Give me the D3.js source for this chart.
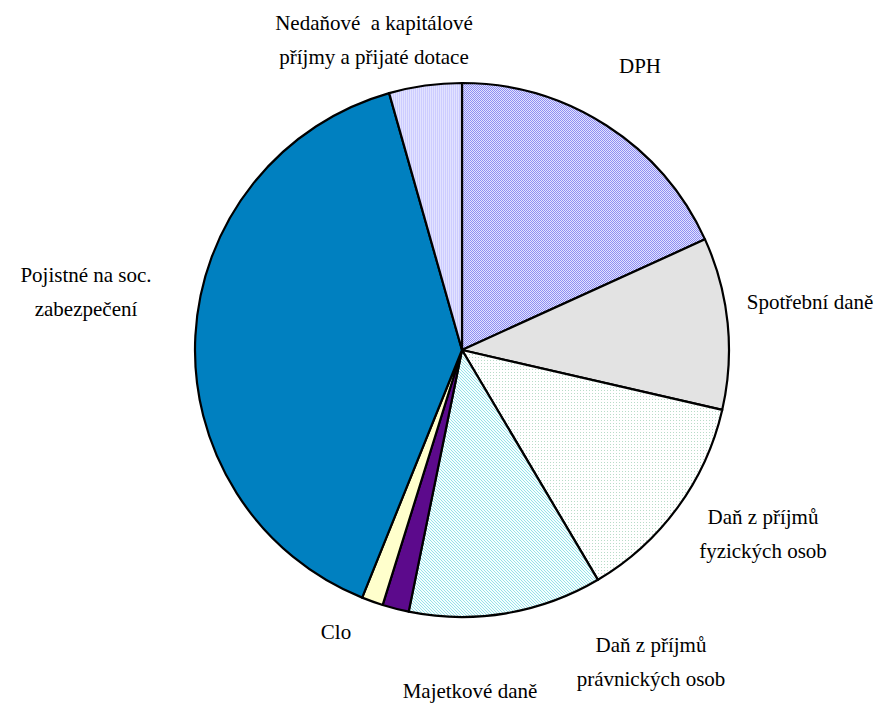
<!DOCTYPE html>
<html>
<head>
<meta charset="utf-8">
<script src="https://cdn.jsdelivr.net/npm/d3@7"></script>
<style>
  body { margin: 0; background: #fff; }
  .lbl { font-family: "Liberation Serif", "Times New Roman", serif; font-size: 21px; fill: #000; }
</style>
</head>
<body>
<div id="chart"></div>
<script>
// slices, clockwise from 12 o'clock
const categories = [
  "DPH",
  "Spotřební daně",
  "Daň z příjmů fyzických osob",
  "Daň z příjmů právnických osob",
  "Majetkové daně",
  "Clo",
  "Pojistné na soc. zabezpečení",
  "Nedaňové a kapitálové příjmy a přijaté dotace"
];
const shares = [18.2, 10.4, 12.9, 11.7, 1.6, 1.3, 39.5, 4.4];

// label text lines
const labelLines = [
  ["DPH"],
  ["Spotřební daně"],
  ["Daň z příjmů", "fyzických osob"],
  ["Daň z příjmů", "právnických osob"],
  ["Majetkové daně"],
  ["Clo"],
  ["Pojistné na soc.", "zabezpečení"],
  ["Nedaňové  a kapitálové", "příjmy a přijaté dotace"]
];

const width = 886, height = 704;
const cx = 462, cy = 350, radius = 267;

const svg = d3.select("#chart").append("svg")
  .attr("width", width)
  .attr("height", height);

const defs = svg.append("defs");

// fill patterns (imitating the office-style hatch fills)
function pat(id, w, h, bg, draw) {
  const p = defs.append("pattern")
    .attr("id", id)
    .attr("patternUnits", "userSpaceOnUse")
    .attr("width", w).attr("height", h);
  p.append("rect").attr("width", w).attr("height", h).attr("fill", bg);
  draw(p);
}
pat("p-dph", 2, 2, "#e2e2ff", p => {
  p.append("rect").attr("x", 0).attr("y", 0).attr("width", 1).attr("height", 1).attr("fill", "#8e8ef2");
  p.append("rect").attr("x", 1).attr("y", 1).attr("width", 1).attr("height", 1).attr("fill", "#8e8ef2");
});
pat("p-fo", 3, 3, "#ffffff", p => {
  p.append("rect").attr("x", 1).attr("y", 1).attr("width", 1).attr("height", 1).attr("fill", "#b8dcc8");
});
pat("p-po", 3, 3, "#f4ffff", p => {
  p.append("rect").attr("x", 0).attr("y", 0).attr("width", 1).attr("height", 1).attr("fill", "#99e0e8");
  p.append("rect").attr("x", 1).attr("y", 1).attr("width", 1).attr("height", 1).attr("fill", "#99e0e8");
  p.append("rect").attr("x", 2).attr("y", 2).attr("width", 1).attr("height", 1).attr("fill", "#99e0e8");
});
pat("p-ned", 2, 2, "#ccccff", p => {
  p.append("rect").attr("x", 0).attr("y", 0).attr("width", 1).attr("height", 2).attr("fill", "#e2e2ff");
});

const fills = [
  "url(#p-dph)", "#e3e3e3", "url(#p-fo)", "url(#p-po)",
  "#5c0a8c", "#ffffcc", "#0080c0", "url(#p-ned)"
];

const pie = d3.pie().sort(null).value(d => d);
const arc = d3.arc().innerRadius(0).outerRadius(radius);

const g = svg.append("g").attr("transform", `translate(${cx},${cy})`);

g.selectAll("path.slice")
  .data(pie(shares))
  .join("path")
  .attr("class", "slice")
  .attr("d", arc)
  .attr("fill", (d, i) => fills[i])
  .attr("stroke", "#000")
  .attr("stroke-width", 2.2)
  .attr("stroke-linejoin", "round");

// label anchors (centre of first line), placed by hand like the original
const labelPos = [
  [640, 73], [810, 309], [763, 524], [651, 652],
  [470, 698], [336, 639], [86, 282], [374, 30]
];
const lineGap = 34;

labelLines.forEach((lines, i) => {
  const t = svg.append("text")
    .attr("class", "lbl")
    .attr("text-anchor", "middle")
    .attr("x", labelPos[i][0])
    .attr("y", labelPos[i][1]);
  lines.forEach((s, j) => {
    t.append("tspan")
      .attr("x", labelPos[i][0])
      .attr("dy", j === 0 ? 0 : lineGap)
      .attr("xml:space", "preserve")
      .text(s);
  });
});
</script>
</body>
</html>
